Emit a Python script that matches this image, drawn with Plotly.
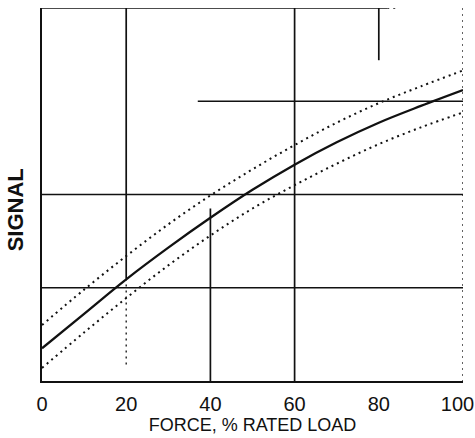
import plotly.graph_objects as go

# ---- data ----
force = [0, 10, 20, 30, 40, 50, 60, 70, 80, 90, 100]
signal_mid = [0.35, 0.72, 1.09, 1.43, 1.75, 2.05, 2.32, 2.56, 2.77, 2.95, 3.12]
signal_upper = [0.60, 0.98, 1.34, 1.68, 1.99, 2.27, 2.53, 2.77, 2.98, 3.16, 3.33]
signal_lower = [0.14, 0.52, 0.89, 1.24, 1.56, 1.85, 2.10, 2.33, 2.54, 2.72, 2.88]
x_ticks = [0, 20, 40, 60, 80, 100]
x_tick_labels = ["0", "20", "40", "60", "80", "100&nbsp;&nbsp;"]

# grid segments in data units: (x0, y0, x1, y1)
grid_solid = [
    (0, 1, 100, 1),
    (0, 2, 100, 2),
    (37, 3, 100, 3),
    (20, 4, 20, 1.1),
    (40, 1.85, 40, 0),
    (60, 4, 60, 0),
    (80, 4, 80, 3.44),
    (0, 4, 82, 4),
]
grid_dotted = [
    (20, 1.1, 20, 0.14),
    (100, 4, 100, 0),
    (82, 4, 84, 4),
]

INK = "#111111"
FONT = "Liberation Sans, Arial, Helvetica, sans-serif"

fig = go.Figure()

for (x0, y0, x1, y1) in grid_solid:
    fig.add_trace(go.Scatter(x=[x0, x1], y=[y0, y1], mode="lines",
                             line=dict(color=INK, width=1.7),
                             hoverinfo="skip", showlegend=False))
for (x0, y0, x1, y1) in grid_dotted:
    fig.add_trace(go.Scatter(x=[x0, x1], y=[y0, y1], mode="lines",
                             line=dict(color=INK, width=1.3, dash="2px,4px"),
                             hoverinfo="skip", showlegend=False))

fig.add_trace(go.Scatter(x=force, y=signal_upper, mode="lines",
                         line=dict(color=INK, width=2, dash="2px,4px", shape="spline"),
                         showlegend=False))
fig.add_trace(go.Scatter(x=force, y=signal_lower, mode="lines",
                         line=dict(color=INK, width=2, dash="2px,4px", shape="spline"),
                         showlegend=False))
fig.add_trace(go.Scatter(x=force, y=signal_mid, mode="lines",
                         line=dict(color=INK, width=2.3, shape="spline"),
                         showlegend=False))

fig.update_layout(
    width=475, height=438,
    margin=dict(l=42, r=12, t=8, b=57),
    paper_bgcolor="white", plot_bgcolor="white",
    font=dict(family=FONT, color=INK),
    xaxis=dict(range=[0, 100], showgrid=False, zeroline=False, automargin=False,
               showline=True, linewidth=2.2, linecolor=INK,
               tickmode="array", tickvals=x_ticks, ticktext=x_tick_labels,
               ticks="", ticklabeloverflow="allow", ticklabelstandoff=4,
               tickfont=dict(size=20, family=FONT, color=INK),
               title=dict(text="FORCE, % RATED LOAD", font=dict(size=18, family=FONT, color=INK),
                          standoff=1)),
    yaxis=dict(range=[0, 4], showgrid=False, zeroline=False, automargin=False,
               showline=True, linewidth=2.2, linecolor=INK,
               showticklabels=False, ticks=""),
    annotations=[dict(text="<b>SIGNAL</b>", textangle=-90, xref="paper", yref="paper",
                      x=-0.062, y=0.46, xanchor="center", yanchor="middle",
                      showarrow=False, font=dict(size=22, family=FONT, color=INK))],
)

fig.write_html("out.html", config={"displayModeBar": False},
               post_script="document.body.style.margin='0';document.body.style.overflow='hidden';")
